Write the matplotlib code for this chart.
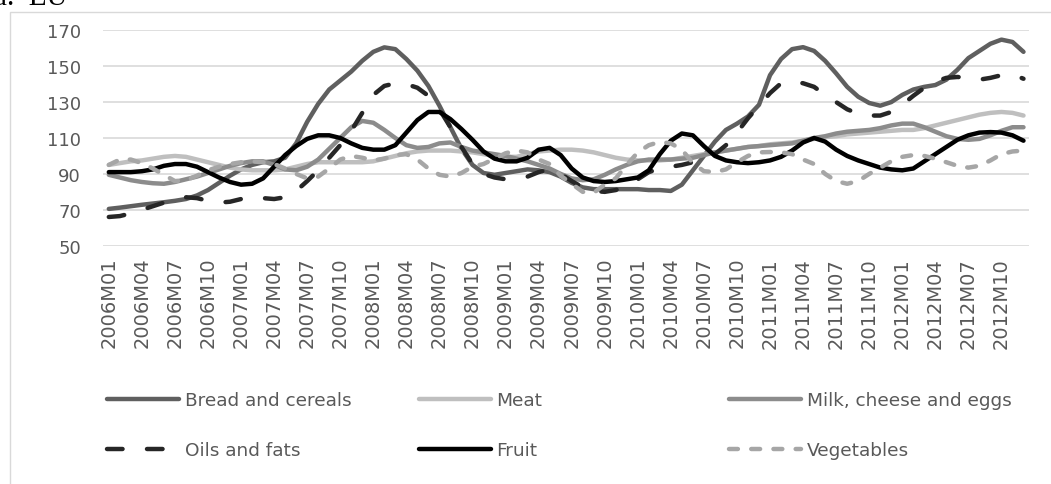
import matplotlib
matplotlib.use("Agg")
import matplotlib.pyplot as plt
from matplotlib.patches import Rectangle

# ---------------- data ----------------
years = list(range(2006, 2013))
months = [f"{y}M{m:02d}" for y in years for m in range(1, 13)]

bread = [70.5, 71.2, 72, 72.8, 73.5, 74.2, 75, 76, 78, 81, 85, 89,
         92.5, 95, 96.5, 97, 99, 107, 119, 129, 137, 142, 147, 153,
         158, 160.5, 159.5, 154, 147.5, 139, 128, 116, 104, 95, 90.5, 89.5,
         90.5, 91.5, 92.5, 92, 91, 88.5, 85, 82.5, 81.5, 81.5, 81.5, 81.5,
         81.5, 81, 81, 80.5, 84, 92, 100, 108, 114.5, 118, 122, 128.5,
         145, 154, 159.5, 160.6, 158.5, 153, 146, 138.5, 133, 129.5, 128, 130,
         134, 137, 138.5, 139.5, 142.5, 148, 154.5, 158.5, 162.5, 164.8, 163.5, 158]

meat = [95, 96, 97, 97.5, 98.5, 99.5, 100, 99.5, 98, 96.5, 95, 93.5,
        92.5, 92, 92, 92, 92.5, 94, 95.5, 96.5, 96.5, 96.5, 96.5, 96.5,
        97, 98.5, 100, 101.5, 102.5, 103, 103, 103, 102.5, 102, 101, 100,
        99.5, 99.5, 101, 102.5, 103, 103.5, 103.5, 103, 102, 100.5, 99, 98,
        97.5, 97.5, 97.5, 98, 99, 100, 101, 102, 103, 104, 105, 105.5,
        106.5, 107, 107.5, 108.5, 109.5, 110.5, 111, 112, 112.5, 113, 113.5, 114,
        114.5, 114.5, 115.5, 117, 118.5, 120, 121.5, 123, 124, 124.5, 124, 122.5]

milk = [89.5, 88, 86.5, 85.5, 84.8, 84.5, 85.5, 87, 88.5, 90.5, 92.5, 94.5,
        96, 97, 97, 95, 92.5, 92, 94, 98, 104, 110, 116, 119.5,
        118.5, 114.5, 110, 106, 104.5, 105, 107, 107.5, 105, 103, 102, 101,
        100, 98.5, 97, 95, 93, 90, 87.5, 86.5, 87, 89.5, 92.5, 95,
        97, 98, 98, 98, 98.5, 99, 100.5, 102, 103, 104, 105, 105.5,
        106, 106.5, 107, 108.5, 110, 111, 112.5, 113.5, 114, 114.5, 115.5, 117,
        118, 118, 116, 113.5, 111, 109.5, 109, 109.5, 111.5, 114, 116, 116]

oils = [66, 66.5, 68, 70, 72, 74, 75.5, 77, 76.5, 75, 74, 74.5,
        76, 77, 76.5, 76, 77, 80.5, 86, 92, 99, 106, 114, 124,
        134, 139, 140.5, 140, 138, 133.5, 126, 116, 105, 95.5, 90, 88,
        87, 87.5, 88.5, 91, 92.5, 90, 86, 82.5, 80.5, 80, 81, 83.5,
        87, 91, 93, 94, 95, 96.5, 98.5, 101, 106, 113, 121, 128,
        135, 140.5, 141.5, 140.5, 138.5, 134, 130, 126, 123.5, 122.5, 122.5, 124.5,
        128.5, 133.5, 138, 141.5, 143.5, 144, 143.5, 142.5, 143.5, 145, 145.5, 143]

fruit = [91, 91, 91, 91.5, 92.5, 94.5, 95.5, 95.5, 94, 91, 88, 85.5,
         84, 84.5, 87.5, 94, 100.5, 105.5, 109.5, 111.5, 111.5, 110, 107, 104.5,
         103.5, 103.5, 106, 113, 120, 124.5, 124.5, 120.5, 115, 109, 102.5, 98.5,
         97, 97, 99, 103.5, 104.5, 100.5, 93, 88, 86, 85.5, 86, 87,
         88, 92, 101, 108.5, 112.5, 111.5, 105.5, 100, 97.5, 96.5, 96, 96.5,
         97.5, 99.5, 103, 107.5, 110, 108, 103.5, 100, 97.5, 95.5, 93.5, 92.5,
         92, 93, 97, 101, 105, 109, 111.5, 113, 113.3, 113, 111.5, 108.5]

vegetables = [95, 98, 98, 96, 93, 89.5, 86, 86.5, 89, 92, 94, 95.5,
              96.5, 97, 96.5, 95.5, 93, 90, 87.5, 88.5, 93, 98, 100, 99,
              97.5, 98.5, 100.5, 101, 98, 93, 89.5, 88.5, 90.5, 94, 95.5, 98.5,
              101.5, 103, 102, 98, 95.5, 89, 84.5, 80, 79.5, 84, 87.5, 95,
              102, 106, 107.8, 107, 103.5, 96, 91.5, 91, 92.5, 96.5, 100, 102,
              102.2, 102, 101, 98, 95.5, 90, 86, 84.5, 86, 90, 93.5, 97,
              99.5, 100.5, 100, 98.5, 96.5, 94.5, 93.5, 94.5, 97.5, 101, 102.5, 103]

series_names = ["Bread and cereals", "Meat", "Milk, cheese and eggs",
                "Oils and fats", "Fruit", "Vegetables"]
series_values = [bread, meat, milk, oils, fruit, vegetables]

y_ticks = [50, 70, 90, 110, 130, 150, 170]

# ---------------- styles ----------------
LW = 3.2
styles = {
    "Bread and cereals": dict(color="#5f5f5f", ls="-"),
    "Meat": dict(color="#bfbfbf", ls="-"),
    "Milk, cheese and eggs": dict(color="#8c8c8c", ls="-"),
    "Oils and fats": dict(color="#262626", ls=(0, (3.5, 5.5))),
    "Fruit": dict(color="#000000", ls="-"),
    "Vegetables": dict(color="#a6a6a6", ls=(0, (2.0, 3.0))),
}

W, H = 1051, 485
fig = plt.figure(figsize=(W / 100, H / 100), dpi=100)

# outer chart frame (partially cropped)
fig.add_artist(Rectangle((10 / W, -0.05), 1.2, (H - 13) / H + 0.05,
                         transform=fig.transFigure, fill=False,
                         edgecolor="#d9d9d9", linewidth=1.0))

# cropped title (the reference shows only its lower part)
fig.text(-6.5 / W, (H - 5) / H, "a.  EU", family="Liberation Serif",
         fontsize=21, color="black", ha="left", va="baseline")

left, right = 103.3 / W, 1029 / W
bottom, top = (H - 246.7) / H, (H - 31.3) / H
ax = fig.add_axes([left, bottom, right - left, top - bottom])

x = list(range(len(months)))
handles = {}
for name, vals in zip(series_names, series_values):
    st = styles[name]
    ln, = ax.plot(x, vals, color=st["color"], linestyle=st["ls"], linewidth=LW,
                  solid_capstyle="round", dash_capstyle="round",
                  solid_joinstyle="round", label=name)
    handles[name] = ln

ax.set_xlim(-0.5, len(months) - 0.5)
ax.set_ylim(50, 170)
ax.set_yticks(y_ticks)
ax.set_yticklabels([str(v) for v in y_ticks])
ax.set_xticks(x[::3])
ax.set_xticklabels(months[::3], rotation=90)
ax.grid(axis="y", color="#d9d9d9", linewidth=1.2)
ax.set_axisbelow(True)
for s in ax.spines.values():
    s.set_visible(False)
ax.tick_params(axis="both", length=0, colors="#595959")
ax.tick_params(axis="y", labelsize=13, pad=16)
ax.tick_params(axis="x", labelsize=14, pad=8)

# legend: three columns, two rows
cols = [("Bread and cereals", "Oils and fats"),
        ("Meat", "Fruit"),
        ("Milk, cheese and eggs", "Vegetables")]
col_x = [107, 419, 729]
for (a, b), cx in zip(cols, col_x):
    lg = fig.legend([handles[a], handles[b]], [a, b], loc="upper left",
                    bbox_to_anchor=(cx / W, (H - 392) / H),
                    frameon=False, fontsize=13.3, handlelength=3.9,
                    handletextpad=0.3, labelspacing=1.75, borderpad=0,
                    borderaxespad=0)
    for t in lg.get_texts():
        t.set_color("#595959")

fig.savefig("out.png", dpi=100)
